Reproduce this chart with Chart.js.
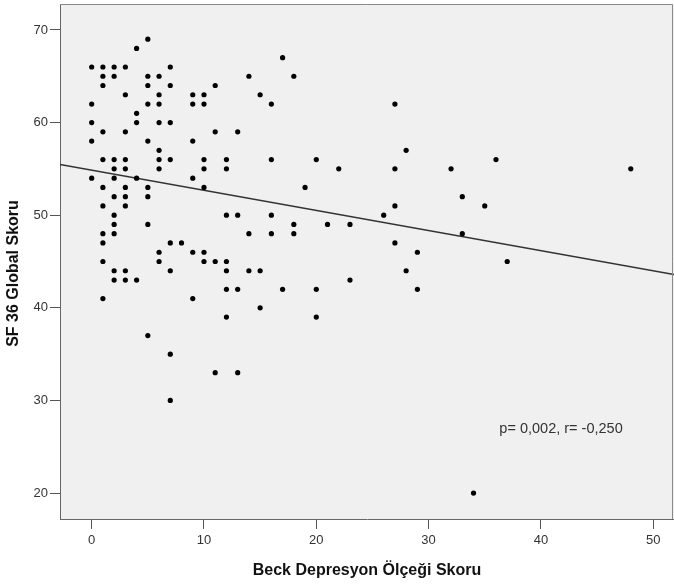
<!DOCTYPE html>
<html>
<head>
<meta charset="utf-8">
<script src="https://cdn.jsdelivr.net/npm/chart.js@4/dist/chart.umd.min.js"></script>
<style>
  html, body { margin: 0; padding: 0; background: #fff; }
  #wrap { width: 674px; height: 588px; }
</style>
</head>
<body>
<div id="wrap"><canvas id="grafico" width="674" height="588"></canvas></div>
<script>
// Beck skoru (x) ve SF 36 global skoru (y), her hasta için bir çift
const beckSkor = [
  0, 0, 0, 0, 0,
  1, 1, 1, 1, 1, 1, 1, 1, 1, 1, 1,
  2, 2, 2, 2, 2, 2, 2, 2, 2, 2, 2,
  3, 3, 3, 3, 3, 3, 3, 3, 3, 3,
  4, 4, 4, 4, 4,
  5, 5, 5, 5, 5, 5, 5, 5, 5,
  6, 6, 6, 6, 6, 6, 6, 6, 6,
  7, 7, 7, 7, 7, 7, 7, 7,
  8,
  9, 9, 9, 9, 9, 9,
  10, 10, 10, 10, 10, 10, 10,
  11, 11, 11, 11,
  12, 12, 12, 12, 12, 12, 12,
  13, 13, 13, 13,
  14, 14, 14,
  15, 15, 15,
  16, 16, 16, 16,
  17, 17,
  18, 18, 18,
  19,
  20, 20, 20,
  21, 22, 23, 23, 26,
  27, 27, 27, 27,
  28, 28, 29, 29,
  32, 33, 33, 34, 35, 36, 37, 48
];
const sfSkor = [
  66, 62, 60, 58, 54,
  66, 65, 64, 59, 56, 53, 51, 48, 47, 45, 41,
  66, 65, 56, 55, 54, 52, 50, 49, 48, 44, 43,
  66, 63, 59, 56, 55, 53, 52, 51, 44, 43,
  68, 61, 60, 54, 43,
  69, 65, 64, 62, 58, 53, 52, 49, 37,
  65, 63, 62, 60, 57, 56, 55, 46, 45,
  66, 64, 60, 56, 47, 44, 35, 30,
  47,
  63, 62, 58, 54, 46, 41,
  63, 62, 56, 55, 53, 46, 45,
  64, 59, 45, 33,
  56, 55, 50, 45, 44, 42, 39,
  59, 50, 42, 33,
  65, 48, 44,
  63, 44, 40,
  62, 56, 50, 48,
  67, 42,
  65, 49, 48,
  53,
  56, 42, 39,
  49, 55, 49, 43, 50,
  62, 55, 51, 47,
  57, 44, 46, 42,
  55, 52, 48, 20, 51, 56, 45, 55
];

// regresyon doğrusu
const egimKatsayi = -0.217;
const kesisim = 54.85;

const xEksen = { min: -2.82, max: 51.85, ticks: [0, 10, 20, 30, 40, 50] };
const yEksen = { min: 17.2, max: 72.8, ticks: [20, 30, 40, 50, 60, 70] };

const xBaslik = 'Beck Depresyon Ölçeği Skoru';
const yBaslik = 'SF 36 Global Skoru';
const istatistikMetni = 'p= 0,002, r= -0,250';

const noktalar = beckSkor.map((b, i) => ({ x: b, y: sfSkor[i] }));
const dogru = [xEksen.min, xEksen.max].map(x => ({ x: x, y: kesisim + egimKatsayi * x }));

const fontAdi = '"Liberation Sans", Arial, sans-serif';

// grafik alanı arka planı, çerçeve, y başlığı ve p/r yazısı
const cerceve = {
  id: 'cerceve',
  beforeDraw(chart) {
    const { ctx, chartArea: a } = chart;
    ctx.save();
    ctx.fillStyle = '#f0f0f0';
    ctx.fillRect(a.left, a.top, a.right - a.left, a.bottom - a.top);
    ctx.restore();
  },
  afterDraw(chart) {
    const { ctx, chartArea: a, scales } = chart;
    ctx.save();
    ctx.strokeStyle = '#8a8a8a';
    ctx.lineWidth = 1;
    ctx.beginPath();
    ctx.moveTo(a.left, a.top + 0.5);
    ctx.lineTo(a.right - 1.5, a.top + 0.5);
    ctx.lineTo(a.right - 1.5, a.bottom);
    ctx.stroke();

    ctx.fillStyle = '#333';
    ctx.font = '14.5px ' + fontAdi;
    ctx.textBaseline = 'middle';
    ctx.fillText(istatistikMetni, scales.x.getPixelForValue(36.3), scales.y.getPixelForValue(26.9));

    // y ekseni başlığı biraz aşağıda ortalanıyor
    ctx.fillStyle = '#111';
    ctx.font = 'bold 16px ' + fontAdi;
    ctx.textAlign = 'center';
    ctx.translate(14, (a.top + a.bottom) / 2 + 12);
    ctx.rotate(-Math.PI / 2);
    ctx.fillText(yBaslik, 0, 0);
    ctx.restore();
  }
};

new Chart(document.getElementById('grafico').getContext('2d'), {
  type: 'scatter',
  data: {
    datasets: [
      {
        data: noktalar,
        backgroundColor: '#000',
        borderColor: '#000',
        pointRadius: 2.6,
        pointBorderWidth: 0
      },
      {
        type: 'line',
        data: dogru,
        borderColor: '#333',
        borderWidth: 1.5,
        pointRadius: 0,
        fill: false
      }
    ]
  },
  options: {
    responsive: false,
    animation: false,
    layout: { autoPadding: false, padding: { top: 4, right: 0, left: 0, bottom: 0 } },
    plugins: { legend: { display: false }, tooltip: { enabled: false } },
    scales: {
      x: {
        type: 'linear',
        min: xEksen.min,
        max: xEksen.max,
        afterBuildTicks: s => { s.ticks = xEksen.ticks.map(v => ({ value: v })); },
        afterFit: s => { s.height = 69; s.paddingLeft = 0; s.paddingRight = 0; },
        grid: { drawOnChartArea: false, drawTicks: true, tickLength: 10, tickColor: '#555' },
        border: { color: '#666', width: 1 },
        ticks: { color: '#333', font: { family: fontAdi, size: 13 }, padding: 4, maxRotation: 0 },
        title: {
          display: true,
          text: xBaslik,
          color: '#111',
          font: { family: fontAdi, size: 16, weight: 'bold' },
          padding: { top: 0, bottom: 8 }
        }
      },
      y: {
        type: 'linear',
        min: yEksen.min,
        max: yEksen.max,
        afterBuildTicks: s => { s.ticks = yEksen.ticks.map(v => ({ value: v })); },
        afterFit: s => { s.width = 60; s.paddingTop = 0; s.paddingBottom = 0; },
        grid: { drawOnChartArea: false, drawTicks: true, tickLength: 10, tickColor: '#555' },
        border: { color: '#666', width: 1 },
        ticks: { color: '#333', font: { family: fontAdi, size: 13 }, padding: 2 },
        title: { display: false }
      }
    }
  },
  plugins: [cerceve]
});
</script>
</body>
</html>
